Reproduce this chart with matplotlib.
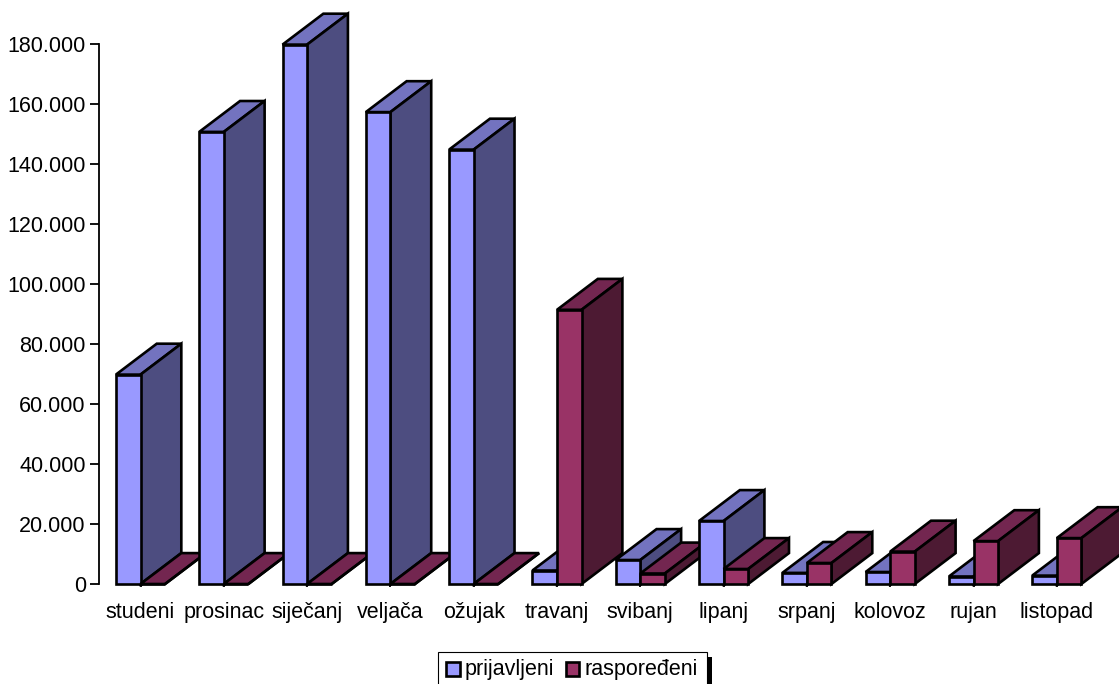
import matplotlib
matplotlib.use('Agg')
import matplotlib.pyplot as plt
from matplotlib.patches import Polygon, Rectangle

plt.rcParams['font.family'] = ['Liberation Sans', 'DejaVu Sans']

months = ['studeni', 'prosinac', 'siječanj', 'veljača', 'ožujak', 'travanj',
          'svibanj', 'lipanj', 'srpanj', 'kolovoz', 'rujan', 'listopad']
prijavljeni = [69800, 150700, 179800, 157300, 144800, 4500,
               8000, 21000, 3700, 4000, 2500, 2800]
rasporedeni = [0, 0, 0, 0, 0, 91400,
               3500, 5000, 7000, 10800, 14300, 15300]
yticks = [0, 20000, 40000, 60000, 80000, 100000, 120000, 140000, 160000, 180000]
ytick_labels = ['0', '20.000', '40.000', '60.000', '80.000', '100.000',
                '120.000', '140.000', '160.000', '180.000']

# boje: prednja, gornja i bocna ploha stupca
blue = ('#9999FF', '#7373BF', '#4D4D80')
red = ('#993366', '#732650', '#4D1A33')

W, H = 1119, 684
FONT = 15.5
bar_w = 0.295
depth_x = 0.49
depth_y = 10300


def draw_bar(ax, x, value, colors, z):
    front, top, side = colors
    kw = dict(edgecolor='k', linewidth=1.9, joinstyle='miter', clip_on=False)
    ax.add_patch(Polygon([(x, value), (x + bar_w, value),
                          (x + bar_w + depth_x, value + depth_y), (x + depth_x, value + depth_y)],
                         facecolor=top, zorder=z, **kw))
    ax.add_patch(Polygon([(x + bar_w, 0), (x + bar_w + depth_x, depth_y),
                          (x + bar_w + depth_x, value + depth_y), (x + bar_w, value)],
                         facecolor=side, zorder=z + 0.1, **kw))
    ax.add_patch(Rectangle((x, 0), bar_w, value, facecolor=front, zorder=z + 0.2, **kw))


def fig_box(x0, y0, x1, y1, **kw):
    # pravokutnik zadan u pikselima, y prema dolje
    return Rectangle((x0 / W, 1 - y1 / H), (x1 - x0) / W, (y1 - y0) / H,
                     transform=fig.transFigure, **kw)


fig = plt.figure(figsize=(W / 100, H / 100), dpi=100)
ax = fig.add_axes([99 / W, 1 - 584 / H, (W - 99) / W, 540 / H])

for i in range(len(months)):
    draw_bar(ax, i - bar_w, prijavljeni[i], blue, 3 + 2 * i)
    draw_bar(ax, i, rasporedeni[i], red, 4 + 2 * i)

ax.set_xlim(-41.5 / 83.3, (W - 140.5) / 83.3)
ax.set_ylim(0, 180000)
ax.set_xticks(range(len(months)))
ax.set_xticklabels(months)
ax.set_yticks(yticks)
ax.set_yticklabels(ytick_labels)
ax.tick_params(axis='x', length=2, width=1.3, labelsize=FONT, pad=11, color='k')
ax.tick_params(axis='y', length=6.5, width=1.3, labelsize=FONT, pad=3, color='k')
for s in ['top', 'right', 'bottom']:
    ax.spines[s].set_visible(False)
ax.spines['left'].set_linewidth(1.3)
ax.patch.set_alpha(0)

# legenda sa sjenom, donji rub izlazi iz slike
fig.add_artist(fig_box(707, 657, 712, 690, facecolor='k', edgecolor='none'))
fig.add_artist(fig_box(438, 652, 707, 690, facecolor='w', edgecolor='k', linewidth=0.8))
fig.add_artist(fig_box(446, 662, 460, 676, facecolor=blue[0], edgecolor='k', linewidth=1.9))
fig.add_artist(fig_box(565.5, 662, 578.5, 676, facecolor=red[0], edgecolor='k', linewidth=1.9))
fig.text(465 / W, 1 - 669 / H, 'prijavljeni', fontsize=FONT, va='center')
fig.text(584 / W, 1 - 669 / H, 'raspoređeni', fontsize=FONT, va='center')

fig.savefig('out.png', dpi=100)
